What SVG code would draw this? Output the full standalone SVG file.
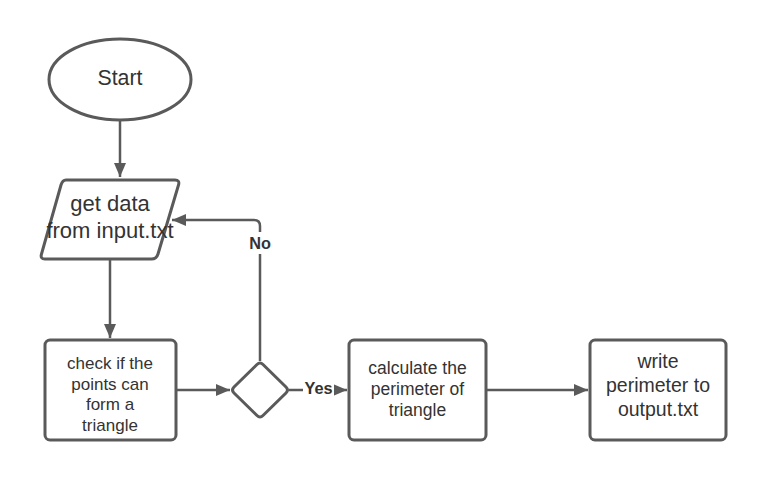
<svg xmlns="http://www.w3.org/2000/svg" width="765" height="480" viewBox="0 0 765 480">
<defs>
<marker id="ah" markerWidth="14" markerHeight="12" refX="14" refY="6" orient="auto" markerUnits="userSpaceOnUse">
<path d="M0,0 L14,6 L0,12 Z" fill="#5a5a5a"/>
</marker>
<style>
.shape{fill:#fff;stroke:#5a5a5a;stroke-width:3;stroke-linejoin:round}
.con{fill:none;stroke:#5a5a5a;stroke-width:2.5;stroke-linejoin:round}
.t{font-family:"Liberation Sans",Arial,sans-serif;fill:#333;text-anchor:middle}
.lbl{font-family:"Liberation Sans",Arial,sans-serif;fill:#333;font-weight:bold;font-size:16.3px;text-anchor:middle}
</style>
</defs>
<rect width="765" height="480" fill="#fff"/>
<g id="connectors">
<path class="con" d="M120,120 L120,177" marker-end="url(#ah)"/>
<path class="con" d="M110,259 L110,338" marker-end="url(#ah)"/>
<path class="con" d="M176,390 L230,390" marker-end="url(#ah)"/>
<path class="con" d="M260,361 L260,226 Q260,220 254,220 L172,220" marker-end="url(#ah)"/>
<path class="con" d="M289,390 L347,390" marker-end="url(#ah)"/>
<path class="con" d="M486,390 L588,390" marker-end="url(#ah)"/>
<rect x="248" y="232" width="24" height="22" fill="#fff"/>
<text class="lbl" x="260" y="249">No</text>
<rect x="303" y="380" width="31" height="20" fill="#fff"/>
<text class="lbl" x="318.5" y="394">Yes</text>
</g>
<g id="start">
<ellipse class="shape" cx="120" cy="79.5" rx="71" ry="40.5"/>
<text class="t" x="120" y="85" font-size="21.3">Start</text>
</g>
<g id="input">
<path class="shape" d="M66,180 L175,180 Q180,180 178.5,185 L158,254 Q156.5,259 151.5,259 L45,259 Q40,259 41.5,254 L61,185 Q62.5,180 66,180 Z"/>
<text class="t" x="110" y="211" font-size="22">get data</text>
<text class="t" x="110" y="238" font-size="22">from input.txt</text>
</g>
<g id="check">
<rect class="shape" x="45" y="340" width="131" height="100" rx="5"/>
<text class="t" x="110" y="369" font-size="17">check if the</text>
<text class="t" x="110" y="389.5" font-size="17">points can</text>
<text class="t" x="110" y="410" font-size="17">form a</text>
<text class="t" x="110" y="430.5" font-size="17">triangle</text>
</g>
<g id="decision">
<path class="shape" d="M257,364.5 Q260,361.5 263,364.5 L286,387 Q289,390 286,393 L263,415.5 Q260,418.5 257,415.5 L234,393 Q231,390 234,387 Z"/>
</g>
<g id="calc">
<rect class="shape" x="349" y="340" width="137" height="100" rx="5"/>
<text class="t" x="417.5" y="374" font-size="17.5">calculate the</text>
<text class="t" x="417.5" y="395" font-size="17.5">perimeter of</text>
<text class="t" x="417.5" y="416" font-size="17.5">triangle</text>
</g>
<g id="write">
<rect class="shape" x="590" y="340" width="136" height="100" rx="5"/>
<text class="t" x="658" y="368" font-size="19.5">write</text>
<text class="t" x="658" y="392" font-size="19.5">perimeter to</text>
<text class="t" x="658" y="416" font-size="19.5">output.txt</text>
</g>
</svg>
